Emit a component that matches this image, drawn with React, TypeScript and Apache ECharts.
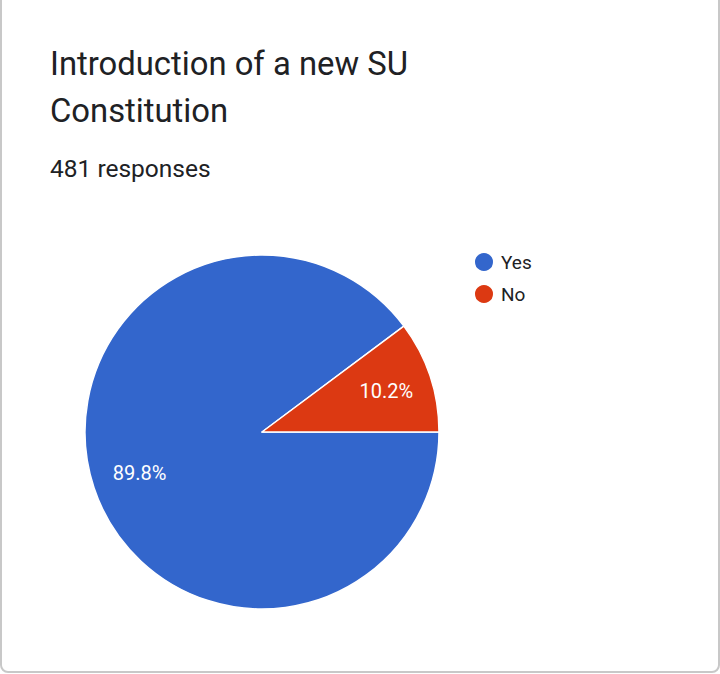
import React, { useEffect, useRef } from "react";
import * as echarts from "echarts";

const titleLines = ["Introduction of a new SU", "Constitution"];
const responsesText = "481 responses";
const categories = ["Yes", "No"];
const values = [89.8, 10.2];
const colors = ["#3366cc", "#dc3912"];

export default function App() {
  const ref = useRef<HTMLDivElement>(null);

  useEffect(() => {
    if (!ref.current) return;
    const chart = echarts.init(ref.current, undefined, { renderer: "svg" });
    const data = categories.map((name, i) => ({ name, value: values[i] }));
    chart.setOption({
      animation: false,
      color: colors,
      title: [
        {
          text: titleLines.join("\n"),
          left: 50,
          top: 40,
          padding: 0,
          textStyle: {
            fontFamily: "Roboto",
            fontSize: 32.8,
            lineHeight: 47,
            fontWeight: "normal",
            color: "#202124",
          },
        },
        {
          text: responsesText,
          left: 50,
          top: 153,
          padding: 0,
          textStyle: {
            fontFamily: "Roboto",
            fontSize: 24.5,
            lineHeight: 30,
            fontWeight: "normal",
            color: "#202124",
          },
        },
      ],
      legend: {
        orient: "vertical",
        left: 473,
        top: 251,
        padding: 0,
        icon: "circle",
        itemWidth: 20,
        itemHeight: 20,
        itemGap: 10,
        data: categories,
        textStyle: {
          fontFamily: "Roboto",
          fontSize: 19,
          lineHeight: 22,
          color: "#202124",
          padding: [0, 0, 0, 2],
        },
      },
      series: [
        {
          type: "pie",
          center: [262, 432],
          radius: [0, 177],
          startAngle: 0,
          clockwise: true,
          silent: true,
          label: { show: false },
          labelLine: { show: false },
          itemStyle: { borderColor: "#ffffff", borderWidth: 1.5 },
          data,
        },
        {
          type: "pie",
          center: [263, 432],
          radius: [0, 254],
          startAngle: 0,
          clockwise: true,
          silent: true,
          legendHoverLink: false,
          itemStyle: { color: "rgba(0,0,0,0)", borderWidth: 0 },
          label: {
            show: true,
            position: "inside",
            formatter: (p: any) => p.value.toFixed(1) + "%",
            fontFamily: "Roboto",
            fontSize: 20,
            color: "#ffffff",
          },
          labelLine: { show: false },
          data,
        },
      ],
    });
    return () => chart.dispose();
  }, []);

  return (
    <div
      style={{
        position: "absolute",
        left: 0,
        top: 0,
        width: 720,
        height: 674,
        background: "#ffffff",
        overflow: "hidden",
      }}
    >
      <div
        style={{
          position: "absolute",
          left: 0,
          top: -10,
          width: 720,
          height: 683,
          boxSizing: "border-box",
          border: "2px solid #c8c8c8",
          borderRadius: 8,
          background: "#ffffff",
        }}
      />
      <div
        ref={ref}
        style={{ position: "absolute", left: 0, top: 0, width: 720, height: 674 }}
      />
    </div>
  );
}
